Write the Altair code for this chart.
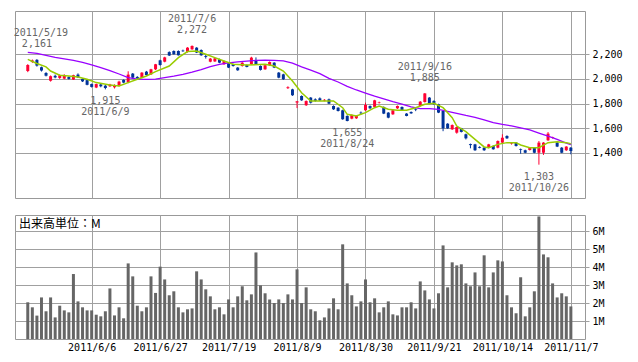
import altair as alt
import pandas as pd

# ---------------- data ----------------
tick_idx = [14, 29, 44, 59, 74, 89, 104, 119]
tick_labels = ["2011/6/6", "2011/6/27", "2011/7/19", "2011/8/9",
               "2011/8/30", "2011/9/21", "2011/10/14", "2011/11/7"]

price_ticks = [1400, 1600, 1800, 2000, 2200]
vol_ticks = [1, 2, 3, 4, 5, 6]

opens = [2064, 2138, 2155, 2095, 2048, 1985, 2025, 2008, 2002, 2015,
         1995, 2035, 2000, 1990, 1958, 1930, 1955, 1945, 1940, 1932,
         1943, 1992, 1972, 2043, 2016, 2010, 2059, 2037, 2078, 2151,
         2140, 2218, 2227, 2227, 2230, 2219, 2241, 2254, 2235, 2185,
         2140, 2142, 2160, 2119, 2127, 2119, 2092, 2105, 2113, 2119,
         2146, 2105, 2078, 2111, 2132, 2051, 2037, 1925, 1915, 1808,
         1861, 1786, 1848, 1834, 1842, 1824, 1834, 1780, 1766, 1745,
         1699, 1677, 1680, 1726, 1745, 1780, 1772, 1806, 1772, 1726,
         1712, 1761, 1772, 1718, 1731, 1753, 1780, 1812, 1848, 1821,
         1794, 1739, 1636, 1590, 1563, 1598, 1550, 1470, 1468, 1447,
         1441, 1441, 1455, 1441, 1482, 1536, 1472, 1482, 1428, 1420,
         1422, 1441, 1400, 1400, 1501, 1522, 1482, 1441, 1420, 1441]
highs = [2120, 2158, 2161, 2100, 2055, 2028, 2035, 2036, 2038, 2020,
         2034, 2045, 2005, 1995, 1962, 1962, 1960, 1950, 1960, 1956,
         1985, 1996, 2062, 2048, 2022, 2055, 2065, 2082, 2122, 2156,
         2180, 2224, 2232, 2232, 2238, 2258, 2272, 2258, 2240, 2200,
         2170, 2170, 2165, 2150, 2132, 2124, 2096, 2136, 2118, 2180,
         2175, 2110, 2115, 2142, 2136, 2056, 2042, 1940, 1920, 1821,
         1866, 1825, 1852, 1842, 1850, 1836, 1840, 1785, 1770, 1750,
         1704, 1712, 1705, 1735, 1807, 1785, 1830, 1815, 1776, 1730,
         1750, 1784, 1776, 1722, 1736, 1762, 1820, 1885, 1852, 1826,
         1798, 1743, 1640, 1630, 1612, 1602, 1555, 1474, 1472, 1452,
         1445, 1472, 1460, 1500, 1550, 1542, 1480, 1486, 1434, 1425,
         1444, 1446, 1495, 1486, 1568, 1530, 1487, 1446, 1453, 1446]
lows = [2055, 2130, 2100, 2060, 2020, 1978, 2005, 2000, 1998, 1995,
        1992, 2008, 1975, 1948, 1930, 1925, 1932, 1915, 1935, 1922,
        1938, 1965, 1965, 2005, 2000, 2005, 2028, 2032, 2072, 2108,
        2135, 2186, 2198, 2190, 2220, 2214, 2236, 2210, 2188, 2165,
        2135, 2138, 2128, 2115, 2088, 2100, 2066, 2100, 2094, 2115,
        2115, 2068, 2074, 2106, 2088, 2005, 1992, 1918, 1862, 1763,
        1822, 1780, 1800, 1815, 1820, 1818, 1795, 1748, 1735, 1668,
        1655, 1672, 1675, 1712, 1740, 1756, 1768, 1800, 1714, 1680,
        1708, 1756, 1740, 1696, 1716, 1738, 1775, 1808, 1795, 1790,
        1722, 1575, 1594, 1585, 1555, 1565, 1508, 1436, 1415, 1436,
        1415, 1436, 1425, 1436, 1478, 1512, 1466, 1450, 1392, 1396,
        1418, 1396, 1303, 1382, 1496, 1515, 1446, 1396, 1415, 1387]
closes = [2113, 2150, 2108, 2068, 2026, 2022, 2012, 2030, 2030, 2000,
          2030, 2012, 1980, 1952, 1935, 1958, 1940, 1926, 1955, 1950,
          1978, 1970, 2035, 2010, 2005, 2051, 2032, 2078, 2119, 2113,
          2175, 2190, 2200, 2192, 2225, 2254, 2268, 2214, 2192, 2178,
          2165, 2167, 2132, 2146, 2092, 2105, 2070, 2132, 2097, 2173,
          2119, 2073, 2111, 2138, 2092, 2010, 1997, 1932, 1867, 1818,
          1826, 1820, 1807, 1821, 1826, 1830, 1799, 1753, 1739, 1672,
          1658, 1707, 1699, 1720, 1788, 1761, 1826, 1810, 1718, 1685,
          1745, 1780, 1745, 1699, 1720, 1748, 1815, 1882, 1799, 1794,
          1726, 1598, 1598, 1625, 1609, 1569, 1517, 1462, 1420, 1440,
          1420, 1468, 1428, 1495, 1522, 1517, 1476, 1455, 1422, 1400,
          1441, 1400, 1482, 1482, 1555, 1528, 1450, 1400, 1450, 1414]
volumes_m = [2.04, 1.76, 1.30, 2.31, 1.54, 2.31, 1.20, 1.85, 1.59, 1.48,
             3.61, 2.09, 1.76, 1.59, 1.59, 1.35, 1.26, 1.54, 2.81, 1.31,
             1.76, 1.15, 4.20, 3.48, 1.85, 1.54, 1.76, 3.48, 2.56, 4.02,
             3.31, 2.43, 2.65, 1.76, 1.48, 1.65, 1.70, 3.76, 3.31, 2.76,
             2.37, 1.65, 1.76, 1.37, 2.20, 1.76, 2.37, 2.93, 2.15, 2.48,
             4.81, 2.98, 2.54, 2.20, 2.00, 2.20, 2.00, 2.48, 2.20, 3.87,
             2.00, 2.87, 1.65, 1.54, 1.04, 1.20, 1.70, 2.26, 1.65, 5.26,
             3.09, 2.43, 1.81, 2.09, 3.31, 2.04, 2.26, 1.48, 1.76, 2.09,
             1.37, 1.31, 1.76, 1.76, 2.04, 1.70, 3.20, 2.70, 2.20, 1.70,
             2.54, 5.20, 2.87, 4.26, 4.09, 4.15, 3.09, 2.93, 3.70, 2.93,
             4.65, 2.87, 3.70, 4.37, 4.31, 2.43, 1.76, 1.43, 3.43, 1.26,
             1.76, 2.65, 6.81, 4.70, 4.54, 3.09, 2.31, 2.54, 2.37, 1.81]

ma5_idx = [0, 2, 4, 5, 7, 9, 11, 13, 15, 18, 20, 22, 24, 26, 28, 31, 33, 35, 37, 39,
           41, 43, 45, 48, 52, 54, 56, 58, 60, 62, 64, 67, 69, 70, 72, 74, 76, 77, 79, 81,
           83, 85, 87, 89, 91, 93, 94, 96, 98, 100, 101, 103, 105, 107, 108, 110, 112, 114,
           116, 118, 119]
ma5_val = [2159, 2125, 2098, 2064, 2030, 2024, 2016, 1997, 1970, 1950, 1943, 1970, 1997,
           2024, 2059, 2105, 2173, 2222, 2227, 2200, 2173, 2146, 2119, 2113, 2119, 2105,
           2064, 1983, 1888, 1821, 1821, 1821, 1766, 1712, 1699, 1726, 1766, 1780, 1753,
           1745, 1745, 1766, 1794, 1802, 1766, 1685, 1617, 1571, 1509, 1447, 1441, 1468,
           1482, 1482, 1463, 1441, 1441, 1482, 1490, 1482, 1474]

ma25_idx = [0, 2, 4, 6, 8, 10, 12, 14, 16, 18, 20, 22, 24, 26, 28, 30, 32, 34, 36, 38,
            40, 42, 44, 46, 48, 50, 52, 54, 56, 58, 60, 62, 64, 66, 68, 70, 72, 74, 76, 78,
            80, 82, 84, 86, 88, 90, 92, 94, 96, 98, 100, 102, 104, 106, 108, 110, 112, 114,
            116, 118, 119]
ma25_val = [2215, 2207, 2192, 2175, 2162, 2150, 2135, 2115, 2092, 2068, 2040, 2010, 1998,
            1997, 1998, 2010, 2022, 2036, 2055, 2076, 2100, 2118, 2130, 2138, 2144, 2150,
            2152, 2151, 2146, 2128, 2098, 2072, 2043, 2005, 1975, 1940, 1910, 1885, 1860,
            1838, 1815, 1795, 1772, 1758, 1758, 1752, 1737, 1720, 1703, 1688, 1668, 1645,
            1630, 1618, 1602, 1585, 1560, 1535, 1508, 1478, 1465]

ann_idx = [2, 36, 87, 17, 70, 112]
ann_price = [2161, 2272, 1885, 1915, 1655, 1303]
ann_date = ["2011/5/19", "2011/7/6", "2011/9/16", "2011/6/9", "2011/8/24", "2011/10/26"]
ann_kind = ["high", "high", "high", "low", "low", "low"]

# ---------------- tables ----------------
df = pd.DataFrame({"idx": list(range(len(opens))), "open": opens, "high": highs,
                   "low": lows, "close": closes, "vol": volumes_m})
df["dir"] = ["up" if c >= o else "down" for o, c in zip(opens, closes)]
ma5 = pd.DataFrame({"idx": ma5_idx, "v": ma5_val})
ma25 = pd.DataFrame({"idx": ma25_idx, "v": ma25_val})
ann = pd.DataFrame({"idx": ann_idx, "price": ann_price, "date": ann_date, "kind": ann_kind})
ann["vlabel"] = [f"{p:,}" for p in ann_price]

# ---------------- styling ----------------
MONO = "DejaVu Sans Mono"
GRID = "#a0a0a0"
W, H1, H2 = 570, 187, 124
xdom = [-2.8, 122.1]

xscale = alt.Scale(domain=xdom, nice=False, zero=False, padding=0)
x_top_axis = alt.Axis(values=tick_idx, labels=False, ticks=False, domain=False,
                      grid=True, gridColor=GRID, gridWidth=1, title=None)
label_expr = ("[" + ",".join(f"'{t}'" for t in tick_labels) + "][indexof(["
              + ",".join(str(i) for i in tick_idx) + "], datum.value)]")
x_bot_axis = alt.Axis(values=tick_idx, labelExpr=label_expr, ticks=False, domain=False,
                      grid=True, gridColor=GRID, gridWidth=1, title=None,
                      labelFont=MONO, labelFontSize=10, labelColor="#000000",
                      labelPadding=3, labelFlush=False)

yscale = alt.Scale(domain=[1032, 2552], nice=False, zero=False, padding=0)
y_axis = alt.Axis(orient="right", values=price_ticks, labelExpr="format(datum.value, ',')",
                  title=None, grid=True, gridColor=GRID, gridWidth=1, domain=False,
                  tickSize=4, tickColor=GRID, labelPadding=3,
                  labelFont=MONO, labelFontSize=10, labelColor="#000000")

xt = alt.X("idx:Q", scale=xscale, axis=x_top_axis)
color = alt.Color("dir:N", scale=alt.Scale(domain=["up", "down"],
                                            range=["#ff0033", "#003399"]), legend=None)

wicks = alt.Chart(df).mark_rule(strokeWidth=1).encode(
    x=xt, y=alt.Y("low:Q", scale=yscale, axis=y_axis), y2="high:Q", color=color)
bodies = alt.Chart(df).mark_bar(size=3).encode(
    x=xt, y=alt.Y("open:Q", scale=yscale, axis=y_axis), y2="close:Q", color=color)
line25 = alt.Chart(ma25).mark_line(color="#9900ff", strokeWidth=1.3).encode(
    x=xt, y=alt.Y("v:Q", scale=yscale, axis=y_axis))
line5 = alt.Chart(ma5).mark_line(color="#99cc00", strokeWidth=1.5).encode(
    x=xt, y=alt.Y("v:Q", scale=yscale, axis=y_axis))

txt = dict(font=MONO, fontSize=10, color="#666666", align="center", baseline="middle")
ytxt = alt.Y("price:Q", scale=yscale, axis=y_axis)
hi_val = alt.Chart(ann).transform_filter("datum.kind == 'high'").mark_text(dy=-15, **txt).encode(
    x=xt, y=ytxt, text="vlabel:N")
hi_date = alt.Chart(ann).transform_filter("datum.kind == 'high' && datum.idx != 2").mark_text(
    dy=-26, **txt).encode(x=xt, y=ytxt, text="date:N")
hi_date_first = alt.Chart(ann).transform_filter("datum.idx == 2").mark_text(
    dy=-26, dx=4, **txt).encode(x=xt, y=ytxt, text="date:N")
lo_val = alt.Chart(ann).transform_filter("datum.kind == 'low'").mark_text(dy=12, **txt).encode(
    x=xt, y=ytxt, text="vlabel:N")
lo_date = alt.Chart(ann).transform_filter("datum.kind == 'low'").mark_text(dy=23, **txt).encode(
    x=xt, y=ytxt, text="date:N")

top = alt.layer(wicks, bodies, line25, line5, hi_val, hi_date, hi_date_first,
                lo_val, lo_date).properties(width=W, height=H1)

# volume panel
vscale = alt.Scale(domain=[0, 6.89], nice=False, zero=True, padding=0)
v_axis = alt.Axis(orient="right", values=vol_ticks, labelExpr="datum.value + 'M'", title=None,
                  grid=True, gridColor=GRID, gridWidth=1, domain=False,
                  tickSize=4, tickColor=GRID, labelPadding=3,
                  labelFont=MONO, labelFontSize=10, labelColor="#000000")
xb = alt.X("idx:Q", scale=xscale, axis=x_bot_axis)
vbars = alt.Chart(df).mark_bar(size=3, color="#666666").encode(
    x=xb, y=alt.Y("vol:Q", scale=vscale, axis=v_axis))
vlabel = alt.Chart(pd.DataFrame({"t": ["出来高単位：M"]})).mark_text(
    font="Noto Sans CJK JP", fontSize=12, color="#000000", align="left", baseline="middle"
).encode(x=alt.value(4), y=alt.value(9), text="t:N")
bottom = alt.layer(vbars, vlabel).properties(width=W, height=H2)

chart = alt.vconcat(top, bottom, spacing=15).resolve_scale(
    x="independent", y="independent"
).properties(
    padding={"left": 5, "top": 2, "right": 5, "bottom": 0},
    background="#ffffff",
).configure_view(stroke="#999999", strokeWidth=1)

chart.save("out.html", embed_options={"renderer": "svg", "actions": False})
